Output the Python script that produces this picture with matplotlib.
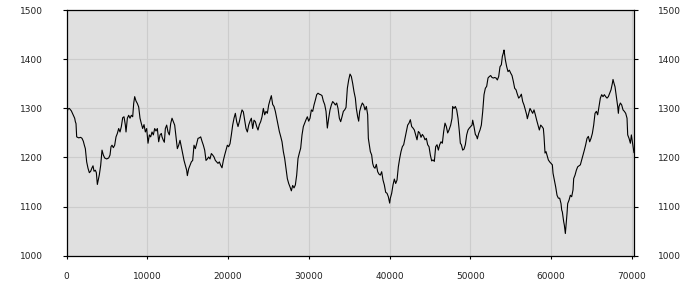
import matplotlib
matplotlib.use("Agg")
import matplotlib.pyplot as plt

x_vals = [
    0, 161, 327, 574, 822, 987, 1070, 1153, 1235, 1483, 1731, 1896, 2061, 2185, 2309, 2474, 2639, 2805,
    2970, 3135, 3259, 3383, 3548, 3672, 3796, 3920, 4044, 4209, 4374, 4539, 4704, 4952, 5200, 5365,
    5489, 5613, 5778, 5943, 6109, 6274, 6439, 6604, 6769, 6935, 7100, 7265, 7348, 7513, 7678, 7843,
    8008, 8174, 8298, 8421, 8587, 8752, 8917, 9082, 9247, 9413, 9578, 9743, 9908, 10073, 10239, 10404,
    10569, 10734, 10899, 11065, 11230, 11395, 11560, 11725,
    11808, 11973, 12097, 12221, 12386, 12551, 12716, 12882, 13047, 13212, 13377, 13542, 13708, 13873,
    14038, 14203, 14368, 14534, 14699, 14864, 14947, 15112, 15277, 15442, 15607, 15773, 15938, 16103,
    16268, 16433, 16599, 16764, 16929, 17094, 17259, 17425, 17590, 17755, 17920, 18085, 18251, 18416,
    18581, 18746, 18911, 19077, 19242, 19407, 19572, 19737, 19903, 20068, 20233, 20398, 20563, 20729,
    20894, 21059, 21224, 21389, 21555, 21720, 21885, 22050, 22215, 22381, 22546, 22711, 22876, 23041,
    23207, 23372, 23537, 23702, 23867,
    24032, 24198, 24363, 24528, 24693, 24858, 25024, 25189, 25354, 25519, 25684, 25850, 26015, 26180,
    26345, 26510, 26676, 26841, 27006, 27171, 27336, 27502, 27667, 27832, 27997, 28162, 28328, 28493,
    28658, 28823, 28988, 29154, 29319, 29484, 29649, 29814, 29980, 30145, 30310, 30475, 30640, 30806,
    30971, 31136, 31301, 31466, 31632, 31797, 31962, 32127, 32292, 32458, 32623, 32788, 32953, 33118,
    33284, 33449, 33614, 33779, 33944, 34110, 34275, 34440, 34605, 34770, 34936, 35101, 35266, 35431,
    35596, 35762,
    35885, 36050, 36174, 36298, 36463, 36629, 36794, 36959, 37124, 37289, 37372, 37496, 37620, 37785,
    37909, 38033, 38198, 38363, 38528, 38694, 38859, 39024, 39189, 39354, 39520, 39685, 39850, 40015,
    40098, 40263, 40428, 40593, 40759, 40924, 41089, 41254, 41419, 41585, 41750, 41915, 42080, 42245,
    42411, 42576, 42741, 42906, 43071, 43237, 43402, 43567, 43732, 43897, 44063, 44228, 44393, 44558,
    44723, 44889, 45054, 45219, 45384, 45549, 45715, 45880, 46045, 46210, 46375, 46541, 46706, 46871,
    47036, 47201, 47367,
    47573, 47739, 47821, 47986, 48152, 48317, 48482, 48647, 48771, 48895, 49060, 49225, 49391, 49556,
    49721, 49886, 50051, 50217, 50299, 50464, 50630, 50795, 50877, 51043, 51208, 51373, 51538, 51703,
    51869, 52034, 52199, 52364, 52529, 52695, 52860, 53025, 53190, 53355, 53521, 53686, 53851, 53975,
    54099, 54181, 54264, 54347, 54512, 54677, 54842, 55007, 55173, 55338, 55503, 55668, 55833, 55999,
    56164, 56329, 56494, 56659, 56825, 56990, 57072, 57238, 57403, 57568, 57733, 57898, 58064, 58229,
    58394, 58559, 58724, 58890, 59055,
    59138, 59262, 59386, 59510, 59675, 59840, 60005, 60170, 60253, 60418, 60583, 60749, 60914, 61079,
    61244, 61327, 61409, 61575, 61657, 61781, 61905, 61988, 62070, 62235, 62401, 62566, 62731, 62814,
    62979, 63144, 63309, 63474, 63640, 63805, 63970, 64135, 64300, 64466, 64631, 64796, 64961, 65126,
    65292, 65457, 65622, 65787, 65952, 66118, 66283, 66448, 66613, 66778, 66944, 67109, 67274, 67439,
    67604, 67687, 67811, 67935, 68100, 68266, 68349, 68431, 68597, 68762, 68927, 69092, 69257, 69423,
    69506, 69671, 69836, 69960, 70084, 70167, 70280,
]

y_vals = [
    1290, 1299, 1300, 1295, 1286, 1280, 1273, 1269, 1242, 1240, 1241, 1239, 1233, 1225, 1218, 1191, 1178, 1169,
    1172, 1179, 1183, 1172, 1174, 1169, 1145, 1155, 1165, 1184, 1215, 1205, 1199, 1197, 1199, 1205,
    1222, 1225, 1220, 1225, 1242, 1249, 1259, 1252, 1263, 1281, 1283, 1266, 1252, 1280, 1286, 1280,
    1286, 1283, 1310, 1324, 1315, 1310, 1303, 1280, 1269, 1259, 1267, 1252, 1259, 1229, 1246, 1242,
    1252, 1246, 1259, 1254, 1259, 1232, 1246, 1249,
    1242, 1235, 1231, 1259, 1266, 1252, 1246, 1269, 1280, 1273, 1266, 1242, 1218, 1225,
    1235, 1222, 1208, 1194, 1184, 1174, 1163, 1177, 1184, 1191, 1194, 1225, 1218, 1228,
    1239, 1240, 1242, 1233, 1225, 1215, 1194, 1197, 1201, 1197, 1208, 1205, 1201, 1194,
    1191, 1188, 1191, 1184, 1179, 1194, 1205, 1215, 1225, 1222, 1228, 1246, 1266, 1280,
    1290, 1273, 1263, 1273, 1286, 1297, 1293, 1276, 1259, 1252, 1266, 1274, 1280, 1259,
    1276, 1273, 1263, 1256, 1267,
    1273, 1283, 1300, 1287, 1294, 1290, 1307, 1317, 1326, 1308, 1304, 1294, 1280, 1266,
    1253, 1243, 1232, 1212, 1198, 1178, 1157, 1147, 1140, 1132, 1143, 1138, 1144, 1164,
    1198, 1209, 1219, 1246, 1263, 1270, 1277, 1283, 1274, 1280, 1297, 1294, 1307, 1317,
    1328, 1331, 1329, 1328, 1326, 1315, 1308, 1294, 1260, 1280, 1297, 1307, 1314, 1311,
    1307, 1311, 1300, 1280, 1273, 1283, 1294, 1297, 1302, 1341, 1358, 1370, 1365, 1351,
    1334, 1321,
    1300, 1283, 1274, 1294, 1304, 1311, 1307, 1297, 1304, 1287, 1239, 1226, 1212, 1205,
    1188, 1181, 1178, 1186, 1171, 1166, 1164, 1171, 1154, 1144, 1129, 1127, 1120, 1107,
    1117, 1127, 1144, 1156, 1147, 1154, 1181, 1198, 1212, 1222, 1226, 1239, 1253, 1266,
    1270, 1277, 1263, 1260, 1256, 1246, 1236, 1253, 1250, 1241, 1247, 1243, 1236, 1239,
    1226, 1222, 1205, 1193, 1195, 1192, 1222, 1226, 1215, 1226, 1232, 1229, 1253, 1270,
    1263, 1250, 1256,
    1266, 1280, 1304, 1300, 1304, 1297, 1280, 1253, 1229, 1226, 1215, 1217, 1226, 1246,
    1256, 1260, 1263, 1266, 1276, 1263, 1247, 1243, 1238, 1249, 1256, 1266, 1293, 1328,
    1341, 1345, 1362, 1365, 1367, 1363, 1362, 1363, 1362, 1358, 1365, 1385, 1389, 1406,
    1413, 1419, 1409, 1399, 1385, 1375, 1378, 1372, 1367, 1355, 1341, 1338, 1329, 1321,
    1324, 1329, 1314, 1307, 1297, 1287, 1279, 1290, 1300, 1295, 1290, 1297, 1287, 1276,
    1266, 1256, 1266, 1263, 1259,
    1243, 1209, 1212, 1205, 1195, 1191, 1188, 1185, 1168, 1154, 1140, 1123, 1117, 1117,
    1106, 1093, 1089, 1069, 1062, 1045, 1069, 1086, 1106, 1113, 1123, 1120, 1134, 1157,
    1164, 1174, 1181, 1183, 1185, 1195, 1205, 1215, 1226, 1239, 1243, 1232, 1239, 1249,
    1266, 1290, 1294, 1287, 1304, 1321, 1328, 1324, 1328, 1324, 1321, 1324, 1331, 1338,
    1351, 1359, 1351, 1344, 1324, 1304, 1290, 1304, 1311, 1307, 1297, 1294, 1290, 1280,
    1246, 1239, 1229, 1246, 1232, 1222, 1210,
]

x_ticks = [0, 10000, 20000, 30000, 40000, 50000, 60000, 70000]
y_ticks = [1000, 1100, 1200, 1300, 1400, 1500]

fig = plt.figure(figsize=(7, 3), dpi=100)
ax = fig.add_axes([0.0953, 0.148, 0.8108, 0.8177])
ax.set_facecolor("#e0e0e0")
ax.plot(x_vals, y_vals, color="black", linewidth=0.8)

ax.set_xlim(0, 70320)
ax.set_ylim(1000, 1500)
ax.set_xticks(x_ticks)
ax.set_yticks(y_ticks)
ax.set_xticklabels([str(t) for t in x_ticks])
ax.set_yticklabels([str(t) for t in y_ticks])
ax.grid(True, color="#cccccc", linewidth=0.8)
ax.set_axisbelow(True)

for sp in ax.spines.values():
    sp.set_color("black")
    sp.set_linewidth(0.9)

ax.tick_params(axis="y", which="both", left=True, right=True, labelleft=True, labelright=True,
               direction="out", length=3, width=0.8, labelsize=6.5, labelcolor="#222222", pad=14)
ax.tick_params(axis="x", direction="out", length=2.5, width=0.8, labelsize=6.5,
               labelcolor="#222222", pad=9)
for lab in ax.get_yticklabels():
    pass

fig.savefig("out.png", dpi=100)
